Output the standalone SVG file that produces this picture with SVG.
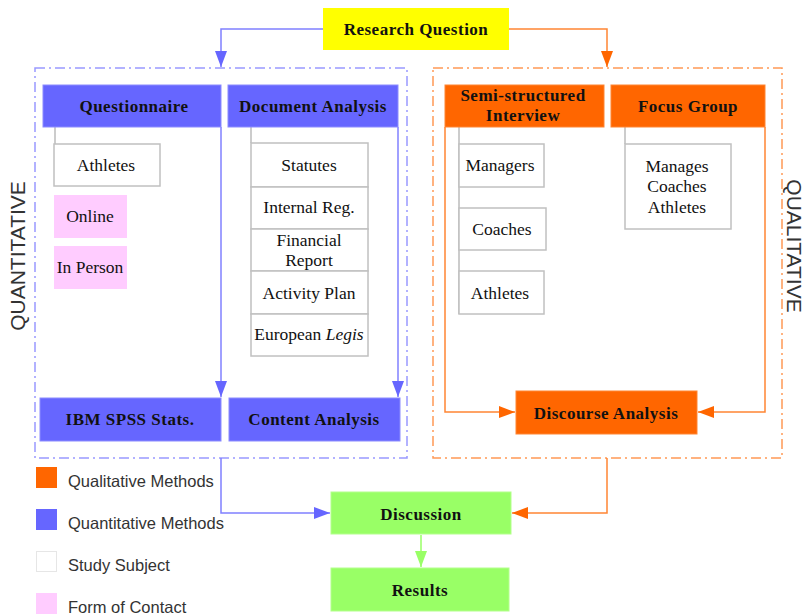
<svg xmlns="http://www.w3.org/2000/svg" width="805" height="616" viewBox="0 0 805 616">
<style>
.hdr{font-family:"Liberation Serif","Times New Roman",serif;font-weight:bold;font-size:17px;letter-spacing:0.5px;fill:#111;text-anchor:middle}
.sub{font-family:"Liberation Serif","Times New Roman",serif;font-size:17.5px;fill:#111;text-anchor:middle}
.side{font-family:"Liberation Sans",Arial,sans-serif;font-size:21px;fill:#333;text-anchor:middle}
.leg{font-family:"Liberation Sans",Arial,sans-serif;font-size:16.5px;fill:#333}
.blue{fill:#6666ff;stroke:#8c8cff;stroke-width:1}
.orange{fill:#ff6600;stroke:#ff8533;stroke-width:1}
.green{fill:#99ff66;stroke:#b3ff8c;stroke-width:1}
.yellow{fill:#ffff00}
.pink{fill:#ffccff}
.box{fill:#fff;stroke:#c0c0c0;stroke-width:1.5}
.cb{fill:none;stroke:#9999ff;stroke-width:1.5;stroke-dasharray:10 4 2 4}
.co{fill:none;stroke:#ff9955;stroke-width:1.5;stroke-dasharray:10 4 2 4}
.lb{fill:none;stroke:#8080ff;stroke-width:1.5}
.lo{fill:none;stroke:#ff8533;stroke-width:1.5}
.lg{fill:none;stroke:#bbbbbb;stroke-width:1.5}
.lgr{fill:none;stroke:#99ff66;stroke-width:1.5}
</style>
<defs>
<marker id="ab" markerWidth="16" markerHeight="12" refX="16" refY="6" orient="auto" markerUnits="userSpaceOnUse"><path d="M0,0 L16,6 L0,12 Z" fill="#6666ff"/></marker>
<marker id="ao" markerWidth="16" markerHeight="12" refX="16" refY="6" orient="auto" markerUnits="userSpaceOnUse"><path d="M0,0 L16,6 L0,12 Z" fill="#ff6600"/></marker>
<marker id="ag" markerWidth="16" markerHeight="12" refX="16" refY="6" orient="auto" markerUnits="userSpaceOnUse"><path d="M0,0 L16,6 L0,12 Z" fill="#99ff66"/></marker>
</defs>
<rect width="805" height="616" fill="#fff"/>

<g id="containers">
<rect class="cb" x="35" y="68" width="372" height="390"/>
<rect class="co" x="433" y="68" width="349" height="390"/>
</g>

<g id="side-labels">
<text class="side" transform="translate(25,256) rotate(-90)">QUANTITATIVE</text>
<text class="side" transform="translate(787,246) rotate(90)">QUALITATIVE</text>
</g>

<g id="connectors">
<polyline class="lb" points="323,29 221,29 221,67" marker-end="url(#ab)"/>
<polyline class="lo" points="509,29 607,29 607,67" marker-end="url(#ao)"/>
<polyline class="lb" points="221,127 221,397" marker-end="url(#ab)"/>
<polyline class="lb" points="398,127 398,397" marker-end="url(#ab)"/>
<polyline class="lg" points="55,127 55,144"/>
<polyline class="lg" points="251,127 251,143"/>
<polyline class="lg" points="459,127 459,314"/>
<polyline class="lg" points="625,127 625,144"/>
<polyline class="lo" points="445,127 445,412 515,412" marker-end="url(#ao)"/>
<polyline class="lo" points="765,127 765,412 698,412" marker-end="url(#ao)"/>
<polyline class="lb" points="221,458 221,513 330,513" marker-end="url(#ab)"/>
<polyline class="lo" points="607,458 607,513 512,513" marker-end="url(#ao)"/>
<polyline class="lgr" points="421,535 421,567" marker-end="url(#ag)"/>
</g>

<g id="research-question">
<rect class="yellow" x="323" y="8" width="186" height="42"/>
<text class="hdr" x="416" y="35">Research Question</text>
</g>

<g id="questionnaire">
<rect class="blue" x="43" y="85" width="178" height="42"/>
<text class="hdr" x="134" y="112">Questionnaire</text>
</g>
<g id="document-analysis">
<rect class="blue" x="228" y="85" width="170" height="42"/>
<text class="hdr" x="313" y="112">Document Analysis</text>
</g>
<g id="athletes-q">
<rect class="box" x="54" y="144" width="106" height="42"/>
<text class="sub" x="106" y="171">Athletes</text>
</g>
<g id="online">
<rect class="pink" x="54" y="195" width="73" height="43"/>
<text class="sub" x="90" y="222">Online</text>
</g>
<g id="in-person">
<rect class="pink" x="54" y="246" width="73" height="43"/>
<text class="sub" x="90" y="273">In Person</text>
</g>
<g id="statutes">
<rect class="box" x="251" y="143" width="117" height="44"/>
<text class="sub" x="309" y="171">Statutes</text>
</g>
<g id="internal-reg">
<rect class="box" x="251" y="187" width="117" height="42"/>
<text class="sub" x="309" y="213">Internal Reg.</text>
</g>
<g id="financial-report">
<rect class="box" x="251" y="229" width="117" height="42"/>
<text class="sub" x="309" y="246">Financial</text>
<text class="sub" x="309" y="266">Report</text>
</g>
<g id="activity-plan">
<rect class="box" x="251" y="271" width="117" height="43"/>
<text class="sub" x="309" y="299">Activity Plan</text>
</g>
<g id="european-legis">
<rect class="box" x="251" y="314" width="117" height="42"/>
<text class="sub" x="309" y="340">European <tspan font-style="italic">Legis</tspan></text>
</g>
<g id="ibm-spss">
<rect class="blue" x="40" y="398" width="181" height="43"/>
<text class="hdr" x="130" y="425">IBM SPSS Stats.</text>
</g>
<g id="content-analysis">
<rect class="blue" x="229" y="398" width="171" height="43"/>
<text class="hdr" x="314" y="425">Content Analysis</text>
</g>

<g id="semi-structured-interview">
<rect class="orange" x="445" y="85" width="159" height="42"/>
<text class="hdr" x="523" y="101">Semi-structured</text>
<text class="hdr" x="523" y="121">Interview</text>
</g>
<g id="focus-group">
<rect class="orange" x="611" y="85" width="154" height="42"/>
<text class="hdr" x="688" y="112">Focus Group</text>
</g>
<g id="managers">
<rect class="box" x="459" y="144" width="85" height="43"/>
<text class="sub" x="500" y="171">Managers</text>
</g>
<g id="coaches">
<rect class="box" x="459" y="208" width="87" height="42"/>
<text class="sub" x="502" y="235">Coaches</text>
</g>
<g id="athletes-i">
<rect class="box" x="459" y="271" width="85" height="43"/>
<text class="sub" x="500" y="299">Athletes</text>
</g>
<g id="focus-subjects">
<rect class="box" x="625" y="144" width="106" height="85"/>
<text class="sub" x="677" y="172">Manages</text>
<text class="sub" x="677" y="192">Coaches</text>
<text class="sub" x="677" y="213">Athletes</text>
</g>
<g id="discourse-analysis">
<rect class="orange" x="516" y="391" width="181" height="43"/>
<text class="hdr" x="606" y="419">Discourse Analysis</text>
</g>

<g id="discussion">
<rect class="green" x="331" y="492" width="180" height="42"/>
<text class="hdr" x="421" y="520">Discussion</text>
</g>
<g id="results">
<rect class="green" x="331" y="568" width="178" height="43"/>
<text class="hdr" x="420" y="596">Results</text>
</g>

<g id="legend">
<rect x="36" y="467" width="21" height="21" fill="#ff6600"/>
<text class="leg" x="68" y="487">Qualitative Methods</text>
<rect x="36" y="509" width="21" height="21" fill="#6666ff"/>
<text class="leg" x="68" y="529">Quantitative Methods</text>
<rect x="36.5" y="551.5" width="20" height="20" fill="#fff" stroke="#e6e6e6"/>
<text class="leg" x="68" y="571">Study Subject</text>
<rect x="36" y="593" width="21" height="21" fill="#ffccff"/>
<text class="leg" x="68" y="613">Form of Contact</text>
</g>
</svg>
